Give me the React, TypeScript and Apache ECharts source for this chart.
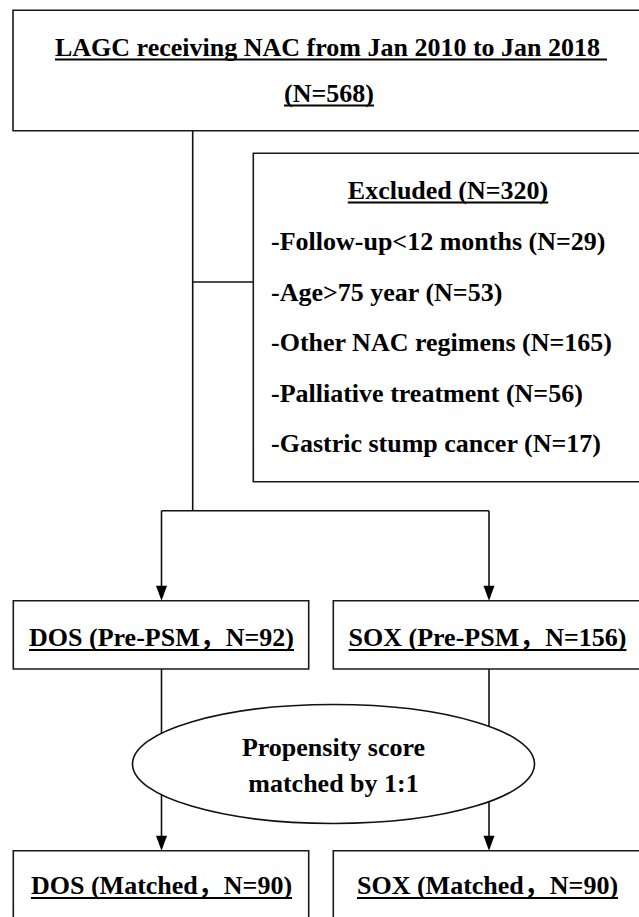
import React, { useEffect, useRef } from "react";
import * as echarts from "echarts";

// ---- content (labels and counts) ----
const cohortTitle = "LAGC receiving NAC from Jan 2010 to Jan 2018";
const cohortTotal = [568];
const excludedTotal = [320];
const excludedReasons = [
  "Follow-up<12 months",
  "Age>75 year",
  "Other NAC regimens",
  "Palliative treatment",
  "Gastric stump cancer",
];
const excludedCounts = [29, 53, 165, 56, 17];
const groups = ["DOS", "SOX"];
const prePsmCounts = [92, 156];
const matchedCounts = [90, 90];
const psmLabel = ["Propensity score", "matched by 1:1"];

// ---- layout ----
const W = 639;
const H = 917;
const FAMILY = '"Liberation Serif", "Times New Roman", "Noto Sans CJK SC", serif';
const FONT = `bold 26px ${FAMILY}`;
const LINE = "#111";
const LW = 1.6;

function measure(s: string): number {
  const ctx = document.createElement("canvas").getContext("2d");
  if (!ctx) return s.length * 12;
  ctx.font = FONT;
  return ctx.measureText(s).width;
}

function textEl(str: string, x: number, y: number, align: "left" | "center", underline: boolean, extraUnder = 0): any[] {
  const w = measure(str);
  const left = align === "center" ? x - w / 2 : x;
  const els: any[] = [
    {
      type: "text",
      x: left,
      y,
      z: 20,
      style: {
        text: str,
        font: FONT,
        fill: "#000",
        align: "left",
        verticalAlign: "middle",
        textAlign: "left",
        textVerticalAlign: "middle",
      },
    },
  ];
  if (underline) {
    els.push({
      type: "rect",
      z: 20,
      shape: { x: left, y: y + 11.5, width: w + extraUnder, height: 2 },
      style: { fill: "#000" },
    });
  }
  return els;
}

function line(x1: number, y1: number, x2: number, y2: number): any {
  return { type: "line", z: 1, shape: { x1, y1, x2, y2 }, style: { stroke: LINE, lineWidth: LW } };
}

function box(x: number, y: number, w: number, h: number): any {
  return { type: "rect", z: 2, shape: { x, y, width: w, height: h }, style: { fill: "none", stroke: "#1a1a1a", lineWidth: LW } };
}

function arrow(x: number, y1: number, y2: number): any[] {
  return [
    line(x, y1, x, y2 - 12),
    {
      type: "polygon",
      z: 3,
      shape: { points: [[x - 5.5, y2 - 15], [x + 5.5, y2 - 15], [x, y2]] },
      style: { fill: "#000" },
    },
  ];
}

function buildElements(): any[] {
  const els: any[] = [];
  const mainX = 192.7;
  const leftX = 161.5;
  const rightX = 489;

  // top box
  els.push(box(13, 10.3, 700, 120.4));
  els.push(...textEl(cohortTitle, 55, 47, "left", true, 7));
  els.push(...textEl(`(N=${cohortTotal[0]})`, 329, 93, "center", true));

  // excluded box
  els.push(box(253.3, 153.3, 500, 328.4));
  els.push(...textEl(`Excluded (N=${excludedTotal[0]})`, 448, 190, "center", true));
  excludedReasons.forEach((r, i) => {
    els.push(...textEl(`-${r} (N=${excludedCounts[i]})`, 271, 241.5 + i * 50.6, "left", false));
  });

  // connectors
  els.push(line(mainX, 130.7, mainX, 510.7));
  els.push(line(mainX, 282, 253.3, 282));
  els.push(line(leftX, 510.7, rightX, 510.7));
  els.push(...arrow(leftX, 510.7, 600.7));
  els.push(...arrow(rightX, 510.7, 600.7));

  // pre-PSM boxes
  els.push(box(13.3, 600.7, 295.4, 68.3));
  els.push(box(333.3, 600.7, 400, 68.3));
  const centers = [leftX, 487.5];
  groups.forEach((g, i) => {
    els.push(...textEl(`${g} (Pre-PSM，N=${prePsmCounts[i]})`, centers[i], 637.5, "center", true));
  });

  // arrows to matched boxes
  els.push(...arrow(leftX, 669, 850.7));
  els.push(...arrow(rightX, 669, 850.7));

  // PSM ellipse
  els.push({
    type: "ellipse",
    z: 10,
    shape: { cx: 333.5, cy: 764, rx: 201, ry: 59.5 },
    style: { fill: "#fff", stroke: LINE, lineWidth: LW },
  });
  els.push(...textEl(psmLabel[0], 333.5, 747.5, "center", false));
  els.push(...textEl(psmLabel[1], 333.5, 783.5, "center", false));

  // matched boxes
  els.push(box(13.3, 850.7, 295.4, 120));
  els.push(box(333.3, 850.7, 400, 120));
  groups.forEach((g, i) => {
    els.push(...textEl(`${g} (Matched，N=${matchedCounts[i]})`, centers[i], 885.5, "center", true));
  });

  return els;
}

export default function App() {
  const ref = useRef<HTMLDivElement>(null);
  useEffect(() => {
    if (!ref.current) return;
    const chart = echarts.init(ref.current, null, { renderer: "svg", width: W, height: H });
    chart.setOption({
      animation: false,
      backgroundColor: "#fff",
      graphic: { elements: buildElements() },
    });
    return () => chart.dispose();
  }, []);
  return (
    <div
      ref={ref}
      style={{ position: "fixed", left: 0, top: 0, width: W, height: H, background: "#fff" }}
    />
  );
}
